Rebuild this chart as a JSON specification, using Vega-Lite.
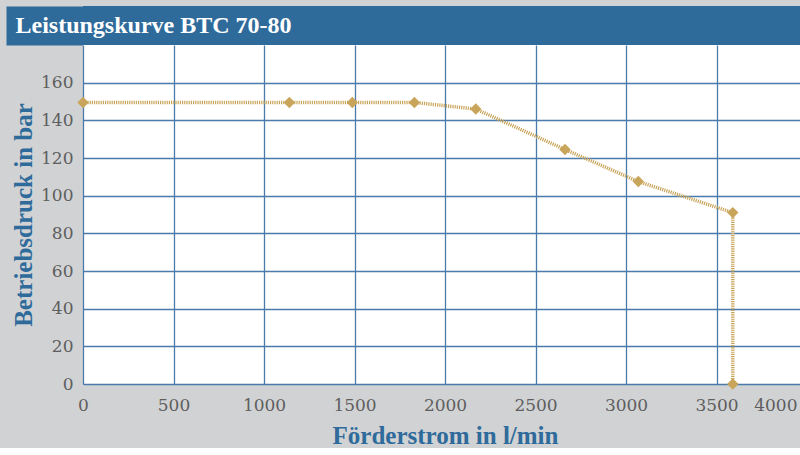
{
  "$schema": "https://vega.github.io/schema/vega-lite/v6.json",
  "background": "#d1d2d4",
  "padding": {"left": 11, "top": 6, "right": 0, "bottom": 0},
  "columns": 1,
  "spacing": 0,
  "config": {"font": "Liberation Serif"},
  "concat": [
    {
      "width": 720,
      "height": 39,
      "data": {"values": [{"v": 0}]},
      "mark": {"type": "point", "opacity": 0},
      "view": {"fill": "#2e6b9b", "stroke": null},
      "encoding": {
        "y": {
          "field": "v",
          "type": "quantitative",
          "axis": {
            "zindex": 1,
            "offset": 38.5,
            "domain": true,
            "domainWidth": 77,
            "domainColor": "#2e6b9b",
            "domainCap": "butt",
            "labels": false,
            "ticks": false,
            "grid": false,
            "title": "Leistungskurve BTC 70-80",
            "titleAngle": 0,
            "titleAlign": "left",
            "titleBaseline": "alphabetic",
            "titleX": -29.5,
            "titleY": 26,
            "titleColor": "white",
            "titleFont": "Liberation Serif",
            "titleFontSize": 24,
            "titleFontWeight": "bold"
          }
        }
      }
    },
    {
      "width": 724,
      "height": 339,
      "data": {
        "values": [
          {"i": 1, "flow": 0, "pressure": 149.5},
          {"i": 2, "flow": 1140, "pressure": 149.5},
          {"i": 3, "flow": 1488, "pressure": 149.5},
          {"i": 4, "flow": 1831, "pressure": 149.5},
          {"i": 5, "flow": 2170, "pressure": 146},
          {"i": 6, "flow": 2663, "pressure": 124.5},
          {"i": 7, "flow": 3068, "pressure": 107.5},
          {"i": 8, "flow": 3590, "pressure": 91},
          {"i": 9, "flow": 3590, "pressure": 0}
        ]
      },
      "view": {"fill": "white", "stroke": null},
      "encoding": {
        "x": {
          "field": "flow",
          "type": "quantitative",
          "scale": {"domain": [0, 4000], "nice": false, "zero": false},
          "axis": {
            "values": [0, 500, 1000, 1500, 2000, 2500, 3000, 3500, 4000],
            "format": "d",
            "title": "Förderstrom in l/min",
            "titleColor": "#2e6b9b",
            "titleFont": "Liberation Serif",
            "titleFontSize": 25,
            "titleFontWeight": "bold",
            "titlePadding": 10,
            "labelColor": "#5e5e5e",
            "labelFont": "DejaVu Serif",
            "labelFontSize": 17,
            "labelPadding": 13,
            "labelAlign": {"condition": {"test": "datum.value == 4000", "value": "right"}, "value": "center"},
            "labelOffset": {"condition": {"test": "datum.value == 4000", "value": -10}, "value": 0},
            "labelOverlap": false,
            "ticks": false,
            "domain": false,
            "grid": true,
            "gridColor": "#4a7bab",
            "gridWidth": 1.3
          }
        },
        "y": {
          "field": "pressure",
          "type": "quantitative",
          "scale": {"domain": [0, 180], "nice": false},
          "axis": {
            "values": [0, 20, 40, 60, 80, 100, 120, 140, 160],
            "title": "Betriebsdruck in bar",
            "titleColor": "#2e6b9b",
            "titleFont": "Liberation Serif",
            "titleFontSize": 25,
            "titleFontWeight": "bold",
            "titlePadding": 4,
            "labelColor": "#5e5e5e",
            "labelFont": "DejaVu Serif",
            "labelFontSize": 17,
            "labelPadding": 10,
            "ticks": false,
            "domain": false,
            "grid": true,
            "gridColor": "#4a7bab",
            "gridWidth": 1.3
          }
        },
        "order": {"field": "i", "type": "quantitative"}
      },
      "layer": [
        {"mark": {"type": "line", "color": "#c9a55b", "strokeWidth": 3.5, "strokeDash": [1.2, 1]}},
        {"mark": {"type": "point", "shape": "diamond", "filled": true, "size": 130, "color": "#c9a55b", "opacity": 1}}
      ]
    }
  ]
}
